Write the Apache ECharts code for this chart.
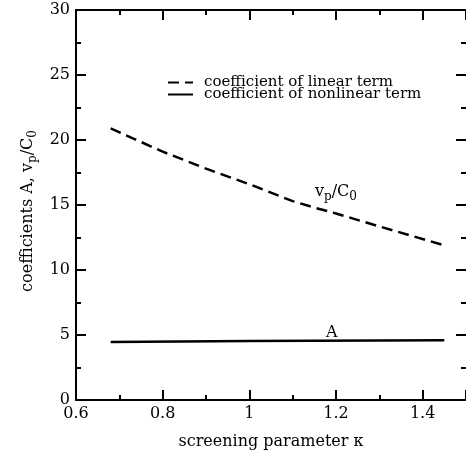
<!DOCTYPE html>
<html>
<head>
<meta charset="utf-8">
<script src="https://cdn.jsdelivr.net/npm/echarts@6/dist/echarts.min.js"></script>
<style>
  html, body { margin: 0; padding: 0; background: #fff; }
  #chart { width: 466px; height: 455px; }
</style>
</head>
<body>
<div id="chart"></div>
<script>
  // screening parameter kappa
  const kappaLinear = [0.68, 0.8, 0.9, 1.0, 1.1, 1.15, 1.2, 1.3, 1.45]
  const linearCoef = [20.9, 19.1, 17.8, 16.6, 15.3, 14.8, 14.35, 13.35, 11.9]

  const kappaNonlinear = [0.68, 1.0, 1.45]
  const nonlinearCoef = [4.47, 4.53, 4.59]

  const legendNames = ['coefficient of linear term', 'coefficient of nonlinear term']

  const serif = 'DejaVu Serif'
  const sub = {fontSize: 12, fontFamily: serif, color: '#000', verticalAlign: 'bottom', padding: [10, 0, 0, 0]}

  let chart = echarts.init(document.getElementById('chart'))

  let axisCommon = {
    type: 'value',
    axisLine: {show: true, onZero: false, lineStyle: {color: '#000', width: 2}},
    axisTick: {show: true, inside: true, length: 10, lineStyle: {color: '#000', width: 2}},
    minorTick: {show: true, splitNumber: 2, length: 5, lineStyle: {color: '#000', width: 2}},
    splitLine: {show: false},
  }

  let legendCommon = {
    orient: 'vertical',
    left: 167,
    itemWidth: 25,
    itemHeight: 11,
    itemGap: 0,
    padding: 0,
    itemStyle: {opacity: 0},
    textStyle: {fontFamily: serif, fontSize: 15, color: '#000', padding: [0, 0, 0, 6]}
  }

  chart.setOption({
    animation: false,
    grid: {left: 76, top: 10, right: 0, bottom: 46},
    legend: [
      Object.assign({}, legendCommon, {top: 75, data: [legendNames[0]]}),
      Object.assign({}, legendCommon, {top: 87, data: [legendNames[1]]})
    ],
    xAxis: [
      Object.assign({}, axisCommon, {
        min: 0.6, max: 1.5, interval: 0.2,
        name: 'screening parameter κ',
        nameLocation: 'middle',
        nameGap: 34,
        nameTextStyle: {fontFamily: serif, fontSize: 16, color: '#000'},
        axisLabel: {
          fontFamily: serif, fontSize: 16, color: '#000', margin: 6,
          showMaxLabel: false,
          formatter: v => v > 1.45 ? '' : String(Math.round(v * 10) / 10)
        }
      }),
      Object.assign({}, axisCommon, {
        position: 'top', min: 0.6, max: 1.5, interval: 0.2,
        axisLabel: {show: false}
      })
    ],
    yAxis: [
      Object.assign({}, axisCommon, {
        min: 0, max: 30, interval: 5,
        name: 'coefficients A, v{sub|p}/C{sub|0}',
        nameLocation: 'middle',
        nameRotate: 90,
        nameGap: 26,
        nameTextStyle: {fontFamily: serif, fontSize: 16, color: '#000', padding: [0, 12, 0, 0], rich: {sub: sub}},
        axisLabel: {fontFamily: serif, fontSize: 16, color: '#000', margin: 6}
      }),
      Object.assign({}, axisCommon, {
        position: 'right', min: 0, max: 30, interval: 5,
        axisLine: {show: false, onZero: false},
        axisLabel: {show: false}
      })
    ],
    series: [
      {
        name: legendNames[0],
        type: 'line',
        symbol: 'none',
        data: kappaLinear.map((k, i) => [k, linearCoef[i]]),
        lineStyle: {color: '#000', width: 2.5, type: [11, 6]},
        itemStyle: {color: '#000'},
        markPoint: {
          symbol: 'circle',
          symbolSize: 0,
          label: {
            show: true,
            position: 'inside',
            formatter: 'v{sub|p}/C{sub|0}',
            fontFamily: serif, fontSize: 16, color: '#000',
            rich: {sub: sub}
          },
          data: [{coord: [1.2, 16.0]}]
        }
      },
      {
        name: legendNames[1],
        type: 'line',
        symbol: 'none',
        data: kappaNonlinear.map((k, i) => [k, nonlinearCoef[i]]),
        lineStyle: {color: '#000', width: 2.5},
        itemStyle: {color: '#000'},
        markPoint: {
          symbol: 'circle',
          symbolSize: 0,
          label: {show: true, position: 'inside', formatter: 'A', fontFamily: serif, fontSize: 16, color: '#000'},
          data: [{coord: [1.19, 5.2]}]
        }
      }
    ]
  })
</script>
</body>
</html>
